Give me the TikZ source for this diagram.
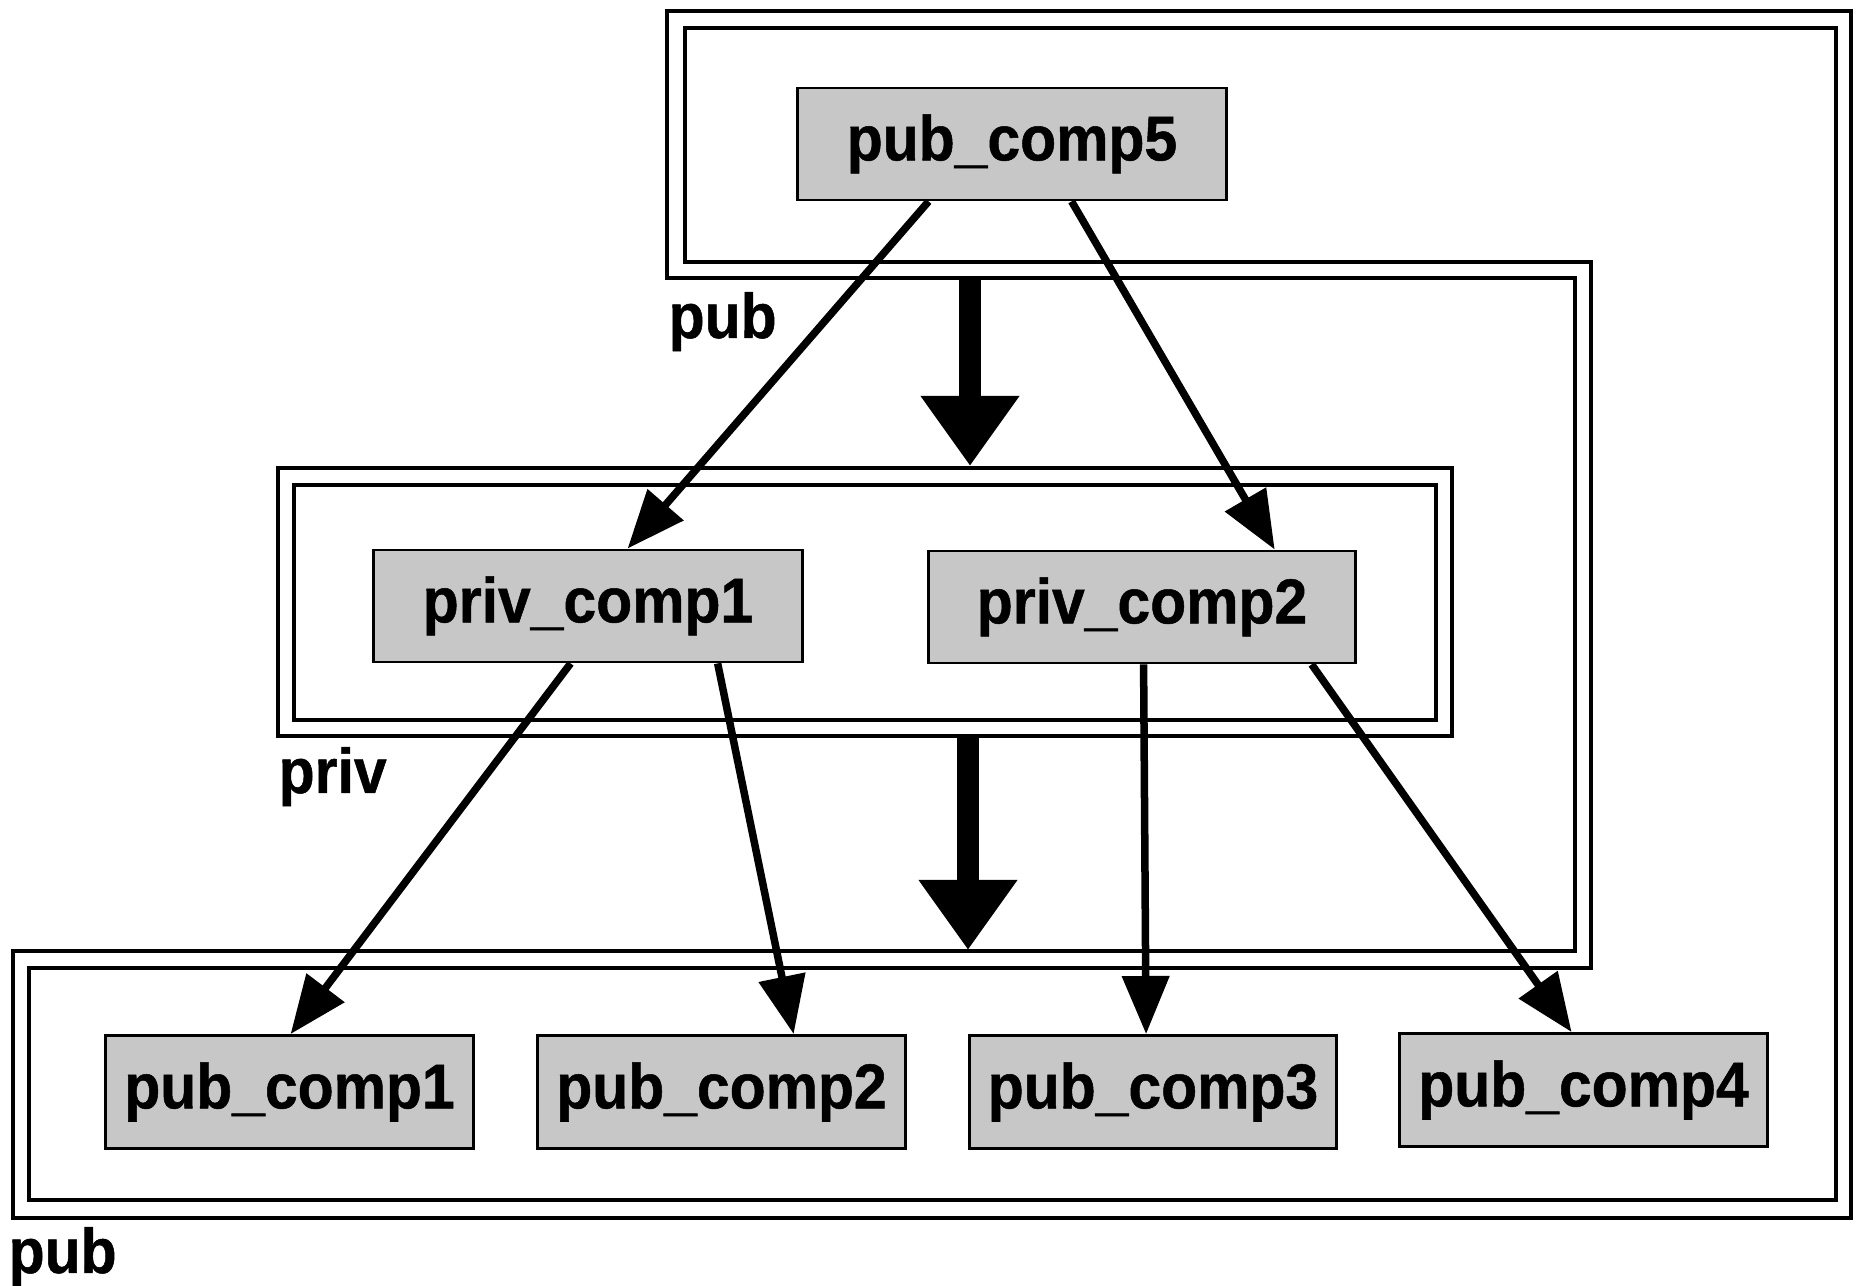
\documentclass[tikz,border=0pt]{standalone}
\usepackage{fontspec}
\newfontfamily\lblfont{Liberation Sans}[FakeStretch=0.93, BoldFeatures={FakeBold=0.8}]
\usetikzlibrary{arrows.meta}
\begin{document}
\begin{tikzpicture}[x=0.01cm,y=-0.01cm,
  txt/.style={font=\lblfont\bfseries\fontsize{18pt}{20pt}\selectfont},
  comp/.style={txt, draw=black, line width=0.8pt, fill=black!22, inner sep=0pt,
               minimum width=4.28cm, minimum height=1.12cm},
  lowcomp/.style={comp, minimum width=3.67cm, minimum height=1.13cm},
  frameline/.style={line width=1.3pt, line join=miter},
  link/.style={line width=0.075cm, -{Triangle[length=0.58cm,width=0.46cm]}},
  bigarrow/.style={line width=0.22cm, -{Triangle[length=0.70cm,width=0.94cm]}},
  lbl/.style={txt, anchor=base west, inner sep=0pt}]
\useasboundingbox (0,0) rectangle (1856,1286);
\fill[white] (0,0) rectangle (1856,1286);

% pub frame (double outline)
\draw[frameline] (667,11) -- (1851,11) -- (1851,1218) -- (13,1218) -- (13,951)
  -- (1575,951) -- (1575,278) -- (667,278) -- cycle;
\draw[frameline] (685,28) -- (1836,28) -- (1836,1200) -- (29,1200) -- (29,968)
  -- (1591,968) -- (1591,262) -- (685,262) -- cycle;

% priv frame (double outline)
\draw[frameline] (278,468) rectangle (1452,736);
\draw[frameline] (294,485) rectangle (1436,720);

% labels
\node[lbl] (lpubtop) at (668,338) {pub};
\node[lbl] (lpriv) at (278,793) {priv};
\node[lbl] (lpubbot) at (8,1273) {pub};

% components
\node[comp] (p5) at (1012,144) {pub\_comp5};
\node[comp] (v1) at (588,606) {priv\_comp1};
\node[comp, minimum width=4.26cm] (v2) at (1142,607) {priv\_comp2};
\node[lowcomp] (c1) at (289.5,1092) {pub\_comp1};
\node[lowcomp] (c2) at (721.5,1092) {pub\_comp2};
\node[lowcomp] (c3) at (1153,1092) {pub\_comp3};
\node[lowcomp] (c4) at (1583.5,1090) {pub\_comp4};

% big arrows between frames
\coordinate (b1s) at (970,278);
\coordinate (b1e) at (970,466);
\coordinate (b2s) at (968,736);
\coordinate (b2e) at (968,950);
\draw[bigarrow] (b1s) -- (b1e);
\draw[bigarrow] (b2s) -- (b2e);

% connectors
\draw[link] ([xshift=1.32cm]p5.south west) -- ([xshift=2.55cm]v1.north west);
\draw[link] ([xshift=2.75cm]p5.south west) -- ([xshift=3.47cm]v2.north west);
\draw[link] ([xshift=1.98cm]v1.south west) -- ([xshift=1.86cm]c1.north west);
\draw[link] ([xshift=3.45cm]v1.south west) -- ([xshift=2.57cm]c2.north west);
\draw[link] ([xshift=2.16cm]v2.south west) -- ([xshift=1.78cm]c3.north west);
\draw[link] ([xshift=3.84cm]v2.south west) -- ([xshift=1.73cm]c4.north west);
\end{tikzpicture}
\end{document}
